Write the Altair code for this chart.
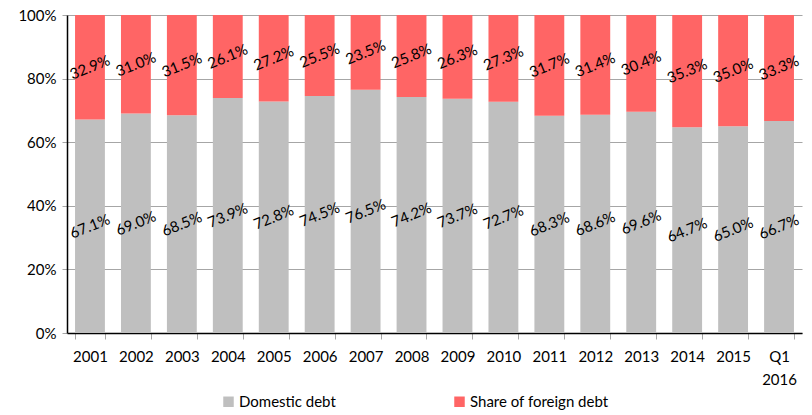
import altair as alt
import pandas as pd

# Debt composition by year (shares of total)
years = ["2001", "2002", "2003", "2004", "2005", "2006", "2007", "2008",
         "2009", "2010", "2011", "2012", "2013", "2014", "2015", "Q1 2016"]
domestic = [67.1, 69.0, 68.5, 73.9, 72.8, 74.5, 76.5, 74.2,
            73.7, 72.7, 68.3, 68.6, 69.6, 64.7, 65.0, 66.7]
foreign = [32.9, 31.0, 31.5, 26.1, 27.2, 25.5, 23.5, 25.8,
           26.3, 27.3, 31.7, 31.4, 30.4, 35.3, 35.0, 33.3]
series = ["Domestic debt", "Share of foreign debt"]
colors = ["#BFBFBF", "#FF6565"]

rows = []
for y, d, f in zip(years, domestic, foreign):
    rows.append({"year": y, "series": series[0], "rank": 0, "share": d / 100})
    rows.append({"year": y, "series": series[1], "rank": 1, "share": f / 100})
df = pd.DataFrame(rows)

FONT = "Lato"

base = alt.Chart(df).transform_stack(
    stack="share", groupby=["year"], as_=["y0", "y1"],
    sort=[alt.SortField("rank", order="ascending")],
).transform_calculate(
    ymid="(datum.y0 + datum.y1) / 2"
)

x_enc = alt.X(
    "year:N", sort=years, title=None,
    scale=alt.Scale(paddingInner=0.35, paddingOuter=0.175),
    axis=alt.Axis(
        labelAngle=0, labelFontSize=15, labelFont=FONT, labelColor="#000000",
        labelPadding=10, labelExpr="split(datum.label, ' ')",
        labelLineHeight=23,
        tickBand="extent", tickSize=6, tickColor="#A6A6A6",
        domainColor="#000000", domainWidth=1.5,
    ),
)

bars = base.mark_bar().encode(
    x=x_enc,
    y=alt.Y(
        "y0:Q", title=None,
        scale=alt.Scale(domain=[0, 1], nice=False),
        axis=alt.Axis(
            values=[0, 0.2, 0.4, 0.6, 0.8, 1.0], format=".0%",
            labelFontSize=15, labelFont=FONT, labelColor="#000000",
            labelPadding=6, tickSize=5, tickColor="#A6A6A6",
            gridColor="#A6A6A6", gridWidth=1.2,
            domainColor="#000000", domainWidth=1.5,
        ),
    ),
    y2="y1:Q",
    color=alt.Color(
        "series:N", title=None,
        scale=alt.Scale(domain=series, range=colors),
        legend=alt.Legend(
            orient="none", legendX=154, legendY=379, direction="horizontal",
            symbolType="square", symbolSize=110, symbolStrokeWidth=0,
            labelFontSize=15, labelFont=FONT, labelColor="#000000",
            labelOffset=3, columnPadding=116, padding=0,
        ),
    ),
)

labels = base.mark_text(
    angle=338, fontSize=15, font=FONT, color="#000000"
).encode(
    x=alt.X("year:N", sort=years),
    y="ymid:Q",
    text=alt.Text("share:Q", format=".1%"),
)

chart = alt.layer(bars, labels).properties(
    width=735, height=318,
    autosize=alt.AutoSizeParams(type="none"),
    padding={"left": 67, "top": 15, "right": 10, "bottom": 82},
).configure_view(stroke=None)

chart.save("out.html", embed_options={"renderer": "svg", "actions": False})
